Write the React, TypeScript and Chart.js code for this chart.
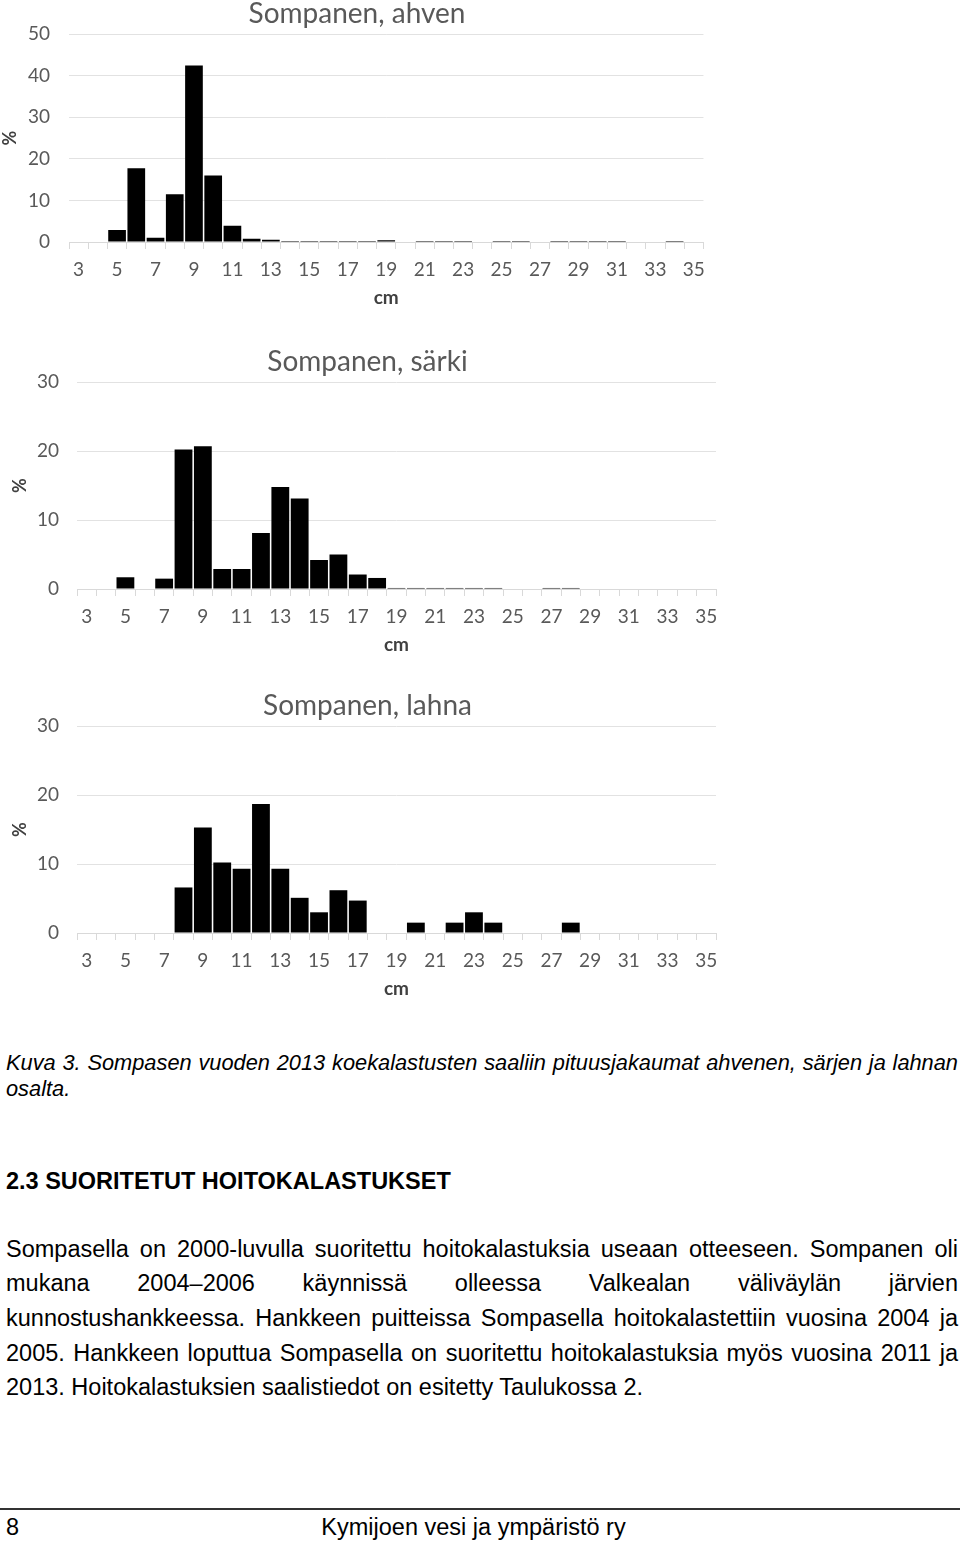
import React, { useEffect, useRef } from 'react';
import { Chart, registerables } from 'chart.js';

Chart.register(...registerables);

// Length classes (cm)
const lengthsCm = ['3', '4', '5', '6', '7', '8', '9', '10', '11', '12', '13', '14', '15', '16', '17', '18', '19', '20', '21', '22', '23', '24', '25', '26', '27', '28', '29', '30', '31', '32', '33', '34', '35'];

// Share of catch (%) per length class
const ahvenPct = [0, 0, 2.9, 17.7, 1.0, 11.5, 42.4, 16.0, 3.9, 0.8, 0.55, 0.25, 0.25, 0.25, 0.25, 0.25, 0.4, 0, 0.25, 0.25, 0.25, 0, 0.25, 0.25, 0, 0.25, 0.25, 0.25, 0.25, 0, 0, 0.25, 0];
const sarkiPct = [0, 0, 1.7, 0, 1.5, 20.2, 20.7, 2.9, 2.9, 8.1, 14.8, 13.1, 4.2, 5.0, 2.1, 1.6, 0.15, 0.15, 0.15, 0.15, 0.15, 0.15, 0, 0, 0.15, 0.15, 0, 0, 0, 0, 0, 0, 0];
const lahnaPct = [0, 0, 0, 0, 0, 6.6, 15.3, 10.2, 9.3, 18.7, 9.3, 5.1, 3.0, 6.2, 4.7, 0, 0, 1.5, 0, 1.5, 3.0, 1.5, 0, 0, 0, 1.5, 0, 0, 0, 0, 0, 0, 0];

const chartTitles = ['Sompanen, ahven', 'Sompanen, särki', 'Sompanen, lahna'];
const yTitle = '%';
const xTitle = 'cm';

const captionLines = [
  'Kuva 3. Sompasen vuoden 2013 koekalastusten saaliin pituusjakaumat ahvenen, särjen ja lahnan',
  'osalta.',
];
const headingText = '2.3 SUORITETUT HOITOKALASTUKSET';
const paragraphLines = [
  'Sompasella on 2000-luvulla suoritettu hoitokalastuksia useaan otteeseen. Sompanen oli',
  'mukana 2004–2006 käynnissä olleessa Valkealan väliväylän järvien',
  'kunnostushankkeessa. Hankkeen puitteissa Sompasella hoitokalastettiin vuosina 2004 ja',
  '2005. Hankkeen loputtua Sompasella on suoritettu hoitokalastuksia myös vuosina 2011 ja',
  '2013. Hoitokalastuksien saalistiedot on esitetty Taulukossa 2.',
];
const footerPage = '8';
const footerText = 'Kymijoen vesi ja ympäristö ry';

const CHART_FONT = 'Lato';
const GRAY = '#595959';

type HistProps = {
  title: string;
  values: number[];
  yMax: number;
  left: number;
  top: number;
  width: number;
  height: number;
  padLeft: number;
  plotLeft: number;
  plotRight: number;
  yTickPad: number;
};

function Histogram(props: HistProps) {
  const ref = useRef<HTMLCanvasElement | null>(null);
  useEffect(() => {
    if (!ref.current) return;
    const chart = new Chart(ref.current, {
      type: 'bar',
      data: {
        labels: lengthsCm,
        datasets: [
          {
            data: props.values,
            backgroundColor: '#000000',
            borderWidth: 0,
            barPercentage: 0.92,
            categoryPercentage: 1,
          },
        ],
      },
      options: {
        responsive: false,
        animation: false,
        devicePixelRatio: 1,
        layout: { padding: { left: props.padLeft, right: props.width - props.plotRight, top: 0, bottom: 0 } },
        plugins: {
          legend: { display: false },
          tooltip: { enabled: false },
          title: {
            display: true,
            text: props.title,
            color: GRAY,
            font: { family: CHART_FONT, size: 28, lineHeight: 1, weight: 'normal' },
            padding: { top: 0, bottom: 6 },
          },
        },
        scales: {
          x: {
            grid: { drawOnChartArea: false, drawTicks: true, tickLength: 7, color: '#d9d9d9', offset: true },
            border: { display: true, color: '#d9d9d9' },
            ticks: {
              autoSkip: false,
              maxRotation: 0,
              minRotation: 0,
              padding: 9,
              color: GRAY,
              font: { family: CHART_FONT, size: 19 },
              callback: (_v: any, i: number) => (i % 2 === 0 ? lengthsCm[i] : ''),
            },
            title: {
              display: true,
              text: xTitle,
              color: '#404040',
              font: { family: CHART_FONT, size: 19, weight: 'bold' },
              padding: { top: 0, bottom: 3 },
            },
            afterFit: (s: any) => {
              s.height = 70;
            },
          },
          y: {
            min: 0,
            max: props.yMax,
            ticks: {
              stepSize: 10,
              padding: props.yTickPad,
              color: GRAY,
              font: { family: CHART_FONT, size: 19 },
            },
            grid: { color: '#e2e2e2', drawTicks: false },
            border: { display: false },
            title: {
              display: true,
              text: yTitle,
              color: '#404040',
              font: { family: CHART_FONT, size: 18, weight: 'bold', lineHeight: 0.15 },
              padding: { top: 0, bottom: 0 },
            },
            afterFit: (s: any) => {
              s.width = props.plotLeft - props.padLeft;
            },
          },
        },
      },
    } as any);
    return () => chart.destroy();
  }, []);
  return (
    <canvas
      ref={ref}
      width={props.width}
      height={props.height}
      style={{ position: 'absolute', left: props.left, top: props.top, width: props.width, height: props.height }}
    />
  );
}

const bodyFont = '"Liberation Sans", Arial, Helvetica, sans-serif';

function Line(p: { text: string; top: number; size: number; justify?: boolean; italic?: boolean; bold?: boolean; lh: number }) {
  return (
    <div
      style={{
        position: 'absolute',
        left: 6,
        top: p.top,
        width: 952,
        fontFamily: bodyFont,
        fontSize: p.size,
        lineHeight: `${p.lh}px`,
        fontStyle: p.italic ? 'italic' : 'normal',
        fontWeight: p.bold ? 'bold' : 'normal',
        color: '#000',
        textAlign: p.justify ? 'justify' : 'left',
        textAlignLast: p.justify ? 'justify' : 'left',
        whiteSpace: 'normal',
      } as any}
    >
      {p.text}
    </div>
  );
}

export default function App() {
  const paraTops = [1234, 1268, 1303, 1338, 1372];
  return (
    <div style={{ position: 'absolute', left: 0, top: 0, width: 960, height: 1543, background: '#fff', overflow: 'hidden' }}>
      <Histogram title={chartTitles[0]} values={ahvenPct} yMax={50} left={0} top={0} width={714} height={312} padLeft={9} plotLeft={69} plotRight={705} yTickPad={19} />
      <Histogram title={chartTitles[1]} values={sarkiPct} yMax={30} left={0} top={348} width={735} height={311} padLeft={19} plotLeft={77} plotRight={716} yTickPad={18} />
      <Histogram title={chartTitles[2]} values={lahnaPct} yMax={30} left={0} top={692} width={735} height={311} padLeft={19} plotLeft={77} plotRight={716} yTickPad={18} />

      <Line text={captionLines[0]} top={1050} size={21.8} lh={26} italic justify />
      <Line text={captionLines[1]} top={1076} size={21.8} lh={26} italic />

      <Line text={headingText} top={1166} size={23.5} lh={30} bold />

      {paragraphLines.map((t, i) => (
        <Line key={i} text={t} top={paraTops[i]} size={23.5} lh={30} justify={i < paragraphLines.length - 1} />
      ))}

      <div style={{ position: 'absolute', left: 0, top: 1508, width: 960, height: 2, background: '#333' }} />
      <div style={{ position: 'absolute', left: 6, top: 1512, fontFamily: bodyFont, fontSize: 23.5, lineHeight: '30px', color: '#000' }}>{footerPage}</div>
      <div style={{ position: 'absolute', left: 0, top: 1512, width: 947, textAlign: 'center', fontFamily: bodyFont, fontSize: 23.5, lineHeight: '30px', color: '#000' }}>{footerText}</div>
    </div>
  );
}
